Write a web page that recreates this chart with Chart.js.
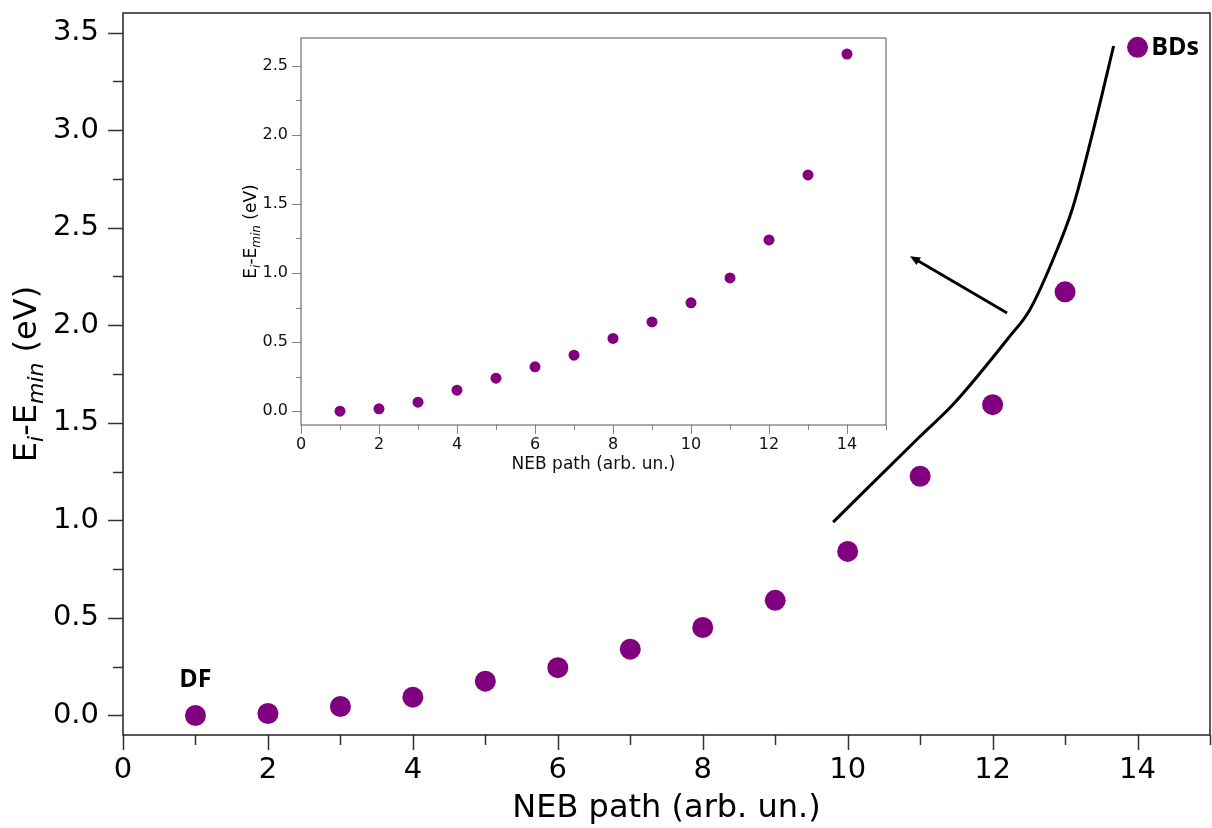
<!DOCTYPE html>
<html>
<head>
<meta charset="utf-8">
<script src="https://cdn.jsdelivr.net/npm/chart.js@4.4.0/dist/chart.umd.min.js"></script>
<style>
html, body { margin: 0; padding: 0; background: #fff; }
#wrap { position: relative; width: 1212px; height: 828px; }
#mainBox { position: absolute; left: 0; top: 0; width: 1212px; height: 828px; }
#insetBox { position: absolute; left: 236px; top: 28px; width: 660px; height: 460px; }
</style>
</head>
<body>
<div id="wrap">
  <div id="mainBox"><canvas id="mainChart"></canvas></div>
  <div id="insetBox"><canvas id="insetChart"></canvas></div>
</div>
<script>
// NEB images along the path
var nebPoints = [1, 2, 3, 4, 5, 6, 7, 8, 9, 10, 11, 12, 13, 14];
// main panel energies (eV)
var mainEnergy = [0.0, 0.01, 0.046, 0.094, 0.176, 0.245, 0.340, 0.451, 0.590, 0.841, 1.226, 1.593, 2.171, 3.424];
// inset energies (eV)
var insetEnergy = [0.0, 0.017, 0.065, 0.152, 0.239, 0.321, 0.405, 0.526, 0.646, 0.784, 0.964, 1.239, 1.709, 2.584];
// black guide curve in the main panel
var curveX = [9.80, 10.99, 11.47, 12.23, 12.51, 12.83, 13.11, 13.39, 13.67];
var curveY = [0.991, 1.427, 1.60, 1.940, 2.077, 2.333, 2.607, 3.000, 3.431];
// arrow pointing to the inset (data coords)
var arrowFrom = [12.20, 2.063];
var arrowTo = [10.86, 2.354];
// text labels
var pointLabels = ['DF', 'BDs'];
var labelX = [1.0, 14.19];
var labelY = [0.18, 3.42];

var purple = '#800080';
var font = 'DejaVu Sans';

function xy(xs, ys) {
  return xs.map(function (x, i) { return { x: x, y: ys[i] }; });
}

function isMajor(v, every) {
  var r = v / every;
  return Math.abs(r - Math.round(r)) < 1e-6;
}

function noPad(s) {
  s.paddingTop = 0; s.paddingBottom = 0; s.paddingLeft = 0; s.paddingRight = 0;
}

// ticks with major/minor lengths + frame
var axisTicks = {
  id: 'axisTicks',
  afterDraw: function (chart, args, o) {
    var ctx = chart.ctx, a = chart.chartArea;
    var sx = chart.scales.x, sy = chart.scales.y;
    ctx.save();
    ctx.strokeStyle = o.tickColor;
    ctx.lineWidth = o.tickWidth;
    sx.ticks.forEach(function (t) {
      var px = Math.round(sx.getPixelForValue(t.value)) + 0.5;
      var len = isMajor(t.value, o.xMajor) ? o.major : o.minor;
      ctx.beginPath(); ctx.moveTo(px, a.bottom); ctx.lineTo(px, a.bottom + len); ctx.stroke();
    });
    sy.ticks.forEach(function (t) {
      var py = Math.round(sy.getPixelForValue(t.value)) + 0.5;
      var len = isMajor(t.value, o.yMajor) ? o.major : o.minor;
      ctx.beginPath(); ctx.moveTo(a.left, py); ctx.lineTo(a.left - len, py); ctx.stroke();
    });
    ctx.strokeStyle = o.frameColor;
    ctx.lineWidth = o.frameWidth;
    ctx.strokeRect(a.left, a.top, a.right - a.left, a.bottom - a.top);
    ctx.restore();
  }
};

// rotated y title E_i-E_min (eV) with italic subscripts
var yTitle = {
  id: 'yTitle',
  afterDraw: function (chart, args, o) {
    var ctx = chart.ctx, a = chart.chartArea;
    var parts = [['E', 0], ['i', 1], ['-E', 0], ['min', 1], [' (eV)', 0]];
    var big = o.size + 'px "' + font + '"';
    var small = 'italic ' + o.sub + 'px "' + font + '"';
    ctx.save();
    var total = 0;
    parts.forEach(function (p) { ctx.font = p[1] ? small : big; total += ctx.measureText(p[0]).width; });
    ctx.translate(o.x, (a.top + a.bottom) / 2 + o.dy);
    ctx.rotate(-Math.PI / 2);
    ctx.fillStyle = '#000';
    ctx.textBaseline = 'alphabetic';
    var x = -total / 2;
    parts.forEach(function (p) {
      ctx.font = p[1] ? small : big;
      ctx.fillText(p[0], x, p[1] ? o.drop : 0);
      x += ctx.measureText(p[0]).width;
    });
    ctx.restore();
  }
};

// arrow and DF / BDs labels in the main panel
var mainExtras = {
  id: 'mainExtras',
  afterDatasetsDraw: function (chart) {
    var ctx = chart.ctx, sx = chart.scales.x, sy = chart.scales.y;
    var x1 = sx.getPixelForValue(arrowFrom[0]), y1 = sy.getPixelForValue(arrowFrom[1]);
    var x2 = sx.getPixelForValue(arrowTo[0]), y2 = sy.getPixelForValue(arrowTo[1]);
    var ang = Math.atan2(y2 - y1, x2 - x1), head = 11;
    ctx.save();
    ctx.strokeStyle = '#000'; ctx.fillStyle = '#000'; ctx.lineWidth = 2.8;
    ctx.beginPath();
    ctx.moveTo(x1, y1);
    ctx.lineTo(x2 - Math.cos(ang) * head * 0.7, y2 - Math.sin(ang) * head * 0.7);
    ctx.stroke();
    ctx.beginPath();
    ctx.moveTo(x2, y2);
    ctx.lineTo(x2 - head * Math.cos(ang - 0.4), y2 - head * Math.sin(ang - 0.4));
    ctx.lineTo(x2 - head * Math.cos(ang + 0.4), y2 - head * Math.sin(ang + 0.4));
    ctx.closePath(); ctx.fill();

    ctx.font = 'bold 25px "Open Sans"';
    ctx.textBaseline = 'middle';
    pointLabels.forEach(function (t, i) {
      ctx.textAlign = i === 0 ? 'center' : 'left';
      ctx.fillText(t, sx.getPixelForValue(labelX[i]), sy.getPixelForValue(labelY[i]));
    });
    ctx.restore();
  }
};

var mainChart = new Chart(document.getElementById('mainChart'), {
  type: 'scatter',
  data: {
    datasets: [{
      label: 'curve',
      data: xy(curveX, curveY),
      showLine: true,
      borderColor: '#000',
      borderWidth: 3,
      pointRadius: 0,
      cubicInterpolationMode: 'monotone',
      fill: false
    }, {
      label: 'NEB',
      data: xy(nebPoints, mainEnergy),
      backgroundColor: purple,
      borderColor: purple,
      borderWidth: 0,
      pointRadius: 10.5,
      pointHoverRadius: 10.5
    }]
  },
  options: {
    responsive: true,
    maintainAspectRatio: false,
    animation: false,
    layout: { autoPadding: false, padding: { top: 13, right: 2, left: 0, bottom: 0 } },
    plugins: {
      legend: { display: false },
      tooltip: { enabled: false },
      axisTicks: { tickColor: '#333', tickWidth: 1.5, major: 15, minor: 10, xMajor: 2, yMajor: 0.5, frameColor: '#222', frameWidth: 1.5 },
      yTitle: { x: 36, dy: 0, size: 32, sub: 22, drop: 7 }
    },
    scales: {
      x: {
        type: 'linear', min: 0, max: 15,
        afterFit: function (s) { s.height = 93; noPad(s); },
        grid: { drawOnChartArea: false, color: 'rgba(0,0,0,0)', tickLength: 15 },
        border: { display: false },
        ticks: {
          stepSize: 1, autoSkip: false, maxRotation: 0, padding: 3, color: '#000',
          font: { family: font, size: 29 },
          callback: function (v) { return isMajor(v, 2) ? String(v) : ''; }
        },
        title: { display: true, text: 'NEB path (arb. un.)', color: '#000', font: { family: font, size: 32 }, padding: { top: 0, bottom: 0 } }
      },
      y: {
        min: -0.1, max: 3.6,
        afterFit: function (s) { s.width = 123; noPad(s); },
        grid: { drawOnChartArea: false, color: 'rgba(0,0,0,0)', tickLength: 16 },
        border: { display: false },
        ticks: {
          stepSize: 0.25, includeBounds: false, autoSkip: false, padding: 8, color: '#000',
          font: { family: font, size: 29 },
          callback: function (v) { return isMajor(v, 0.5) ? v.toFixed(1) : ''; }
        }
      }
    }
  },
  plugins: [axisTicks, yTitle, mainExtras]
});

var insetChart = new Chart(document.getElementById('insetChart'), {
  type: 'scatter',
  data: {
    datasets: [{
      label: 'NEB inset',
      data: xy(nebPoints, insetEnergy),
      backgroundColor: purple,
      borderColor: purple,
      borderWidth: 0,
      pointRadius: 5.5,
      pointHoverRadius: 5.5
    }]
  },
  options: {
    responsive: true,
    maintainAspectRatio: false,
    animation: false,
    layout: { autoPadding: false, padding: { top: 10, right: 10, left: 0, bottom: 0 } },
    plugins: {
      legend: { display: false },
      tooltip: { enabled: false },
      axisTicks: { tickColor: '#888', tickWidth: 1, major: 9, minor: 5, xMajor: 2, yMajor: 0.5, frameColor: '#555', frameWidth: 1 },
      yTitle: { x: 20, dy: 0, size: 17, sub: 12, drop: 4 }
    },
    scales: {
      x: {
        type: 'linear', min: 0, max: 15,
        afterFit: function (s) { s.height = 63; noPad(s); },
        grid: { drawOnChartArea: false, color: 'rgba(0,0,0,0)', tickLength: 8 },
        border: { display: false },
        ticks: {
          stepSize: 1, autoSkip: false, maxRotation: 0, padding: 2, color: '#111',
          font: { family: font, size: 16 },
          callback: function (v) { return isMajor(v, 2) ? String(v) : ''; }
        },
        title: { display: true, text: 'NEB path (arb. un.)', color: '#111', font: { family: font, size: 17 }, padding: { top: 0, bottom: 13 } }
      },
      y: {
        min: -0.1, max: 2.7,
        afterFit: function (s) { s.width = 65; noPad(s); },
        grid: { drawOnChartArea: false, color: 'rgba(0,0,0,0)', tickLength: 9 },
        border: { display: false },
        ticks: {
          stepSize: 0.25, includeBounds: false, autoSkip: false, padding: 4, color: '#111',
          font: { family: font, size: 16 },
          callback: function (v) { return isMajor(v, 0.5) ? v.toFixed(1) : ''; }
        }
      }
    }
  },
  plugins: [axisTicks, yTitle]
});
</script>
</body>
</html>
